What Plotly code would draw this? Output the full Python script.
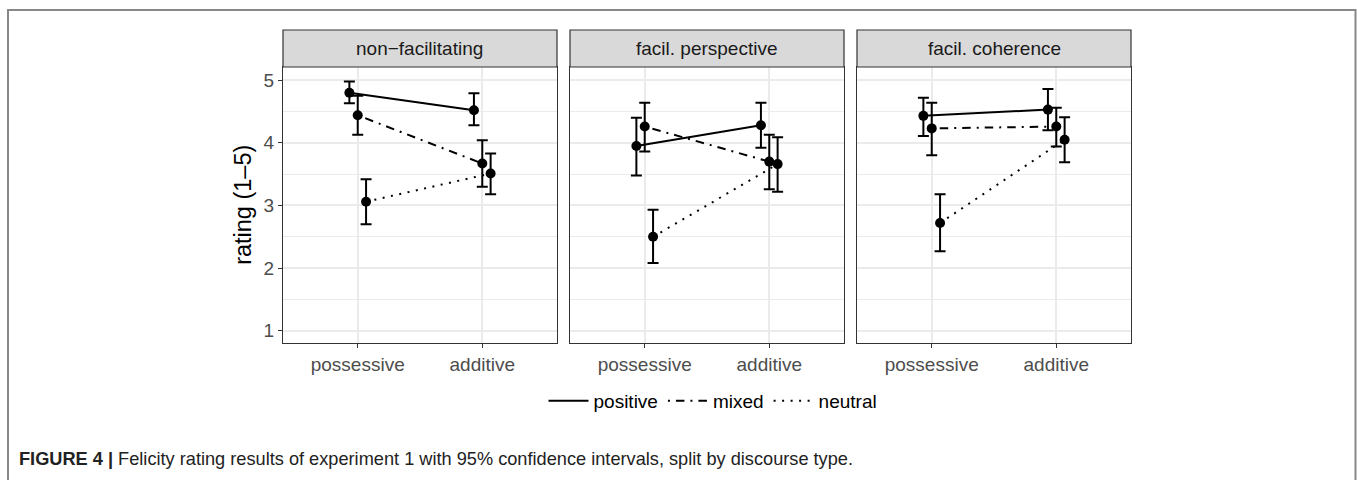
import plotly.graph_objects as go

# ---- data ----
panels = ["non\u2212facilitating", "facil. perspective", "facil. coherence"]
conditions = ["possessive", "additive"]
series = ["positive", "mixed", "neutral"]

positive_mean = [[4.80, 4.52], [3.95, 4.28], [4.43, 4.53]]
positive_low = [[4.63, 4.28], [3.48, 3.92], [4.11, 4.20]]
positive_high = [[4.98, 4.79], [4.40, 4.64], [4.72, 4.86]]

mixed_mean = [[4.44, 3.67], [4.26, 3.70], [4.23, 4.26]]
mixed_low = [[4.13, 3.30], [3.86, 3.26], [3.80, 3.94]]
mixed_high = [[4.75, 4.04], [4.64, 4.13], [4.64, 4.56]]

neutral_mean = [[3.06, 3.51], [2.50, 3.66], [2.72, 4.05]]
neutral_low = [[2.70, 3.18], [2.08, 3.22], [2.27, 3.69]]
neutral_high = [[3.42, 3.83], [2.93, 4.09], [3.18, 4.41]]

y_ticks = [1, 2, 3, 4, 5]

# ---- styling ----
W, H = 1357, 480
FONT = "Liberation Sans, Arial, sans-serif"
dodge = {"positive": -0.067, "mixed": 0.0, "neutral": 0.067}
dash = {"positive": "solid", "mixed": "2px,6px,8.5px,6px", "neutral": "2px,6.5px"}
panel_px = [(283, 557), (570, 844), (857, 1131)]
plot_top, plot_bot = 67, 342.7
strip_top = 30

means = {"positive": positive_mean, "mixed": mixed_mean, "neutral": neutral_mean}
lows = {"positive": positive_low, "mixed": mixed_low, "neutral": neutral_low}
highs = {"positive": positive_high, "mixed": mixed_high, "neutral": neutral_high}

fig = go.Figure()
ydom = [(H - plot_bot) / H, (H - plot_top) / H]

for i, pname in enumerate(panels):
    xa = "x" if i == 0 else f"x{i+1}"
    ya = "y" if i == 0 else f"y{i+1}"
    for s in series:
        m = means[s][i]
        lo = lows[s][i]
        hi = highs[s][i]
        xs = [k + 1 + dodge[s] for k in range(len(conditions))]
        fig.add_trace(go.Scatter(
            x=xs, y=m, xaxis=xa, yaxis=ya,
            mode="lines+markers",
            name=s, legendgroup=s, showlegend=False,
            line=dict(color="black", width=2, dash=dash[s]),
            marker=dict(color="black", size=10),
            error_y=dict(type="data", symmetric=False,
                         array=[h - v for h, v in zip(hi, m)],
                         arrayminus=[v - l for v, l in zip(m, lo)],
                         color="black", thickness=2, width=5.5),
        ))
    x0, x1 = panel_px[i]
    dom = [x0 / W, x1 / W]
    axname = "xaxis" if i == 0 else f"xaxis{i+1}"
    yaxname = "yaxis" if i == 0 else f"yaxis{i+1}"
    fig.layout[axname] = dict(
        domain=dom, anchor=ya, range=[0.4, 2.6],
        tickvals=[1, 2], ticktext=conditions,
        showgrid=True, gridcolor="#EBEBEB", gridwidth=1.6,
        zeroline=False, showline=True, mirror=True,
        linecolor="#333333", linewidth=1.2,
        ticks="outside", ticklen=4, tickcolor="#333333", tickwidth=1.2,
        tickfont=dict(family=FONT, size=19, color="#4D4D4D"),
        fixedrange=True,
    )
    fig.layout[yaxname] = dict(
        domain=ydom, anchor=xa, range=[0.81, 5.21],
        tickvals=y_ticks,
        showgrid=True, gridcolor="#EBEBEB", gridwidth=1.6,
        minor=dict(dtick=0.5, tick0=0.5, showgrid=True, gridcolor="#EBEBEB", gridwidth=0.8),
        zeroline=False, showline=True, mirror=True,
        linecolor="#333333", linewidth=1.2,
        ticks="outside" if i == 0 else "", ticklen=4, tickcolor="#333333", tickwidth=1.2,
        showticklabels=(i == 0),
        tickfont=dict(family=FONT, size=19, color="#4D4D4D"),
        fixedrange=True,
    )
    # strip
    fig.add_shape(type="rect", xref="paper", yref="paper",
                  x0=dom[0], x1=dom[1], y0=ydom[1], y1=(H - strip_top) / H,
                  fillcolor="#D9D9D9", line=dict(color="#333333", width=1.2))
    fig.add_annotation(xref="paper", yref="paper",
                       x=(dom[0] + dom[1]) / 2, y=(ydom[1] + (H - strip_top) / H) / 2,
                       xanchor="center", yanchor="middle",
                       text=pname, showarrow=False,
                       font=dict(family=FONT, size=19, color="#1A1A1A"))

# legend-only entries (line keys, no markers)
for s in series:
    fig.add_trace(go.Scatter(
        x=[None], y=[None], mode="lines", name=s, legendgroup=s, showlegend=True,
        line=dict(color="black", width=2, dash=dash[s]),
    ))

# y axis title
fig.add_annotation(xref="paper", yref="paper", x=243 / W, y=(ydom[0] + ydom[1]) / 2,
                   xanchor="center", yanchor="middle", textangle=-90,
                   text="rating (1\u20135)", showarrow=False,
                   font=dict(family=FONT, size=23.5, color="black"))

# outer frame
fig.add_shape(type="rect", xref="paper", yref="paper",
              x0=8 / W, x1=1355.5 / W, y0=-0.05, y1=(H - 10) / H,
              line=dict(color="#888888", width=2), fillcolor="rgba(0,0,0,0)")

# caption
fig.add_annotation(xref="paper", yref="paper", x=17 / W, y=(H - 459) / H,
                   xanchor="left", yanchor="middle", showarrow=False,
                   text="<b>FIGURE 4 |</b> Felicity rating results of experiment 1 with 95% confidence intervals, split by discourse type.",
                   font=dict(family=FONT, size=18.2, color="#222222"))

fig.update_layout(
    width=W, height=H,
    margin=dict(l=0, r=0, t=0, b=0),
    paper_bgcolor="white", plot_bgcolor="white",
    legend=dict(orientation="h", x=713 / W, xanchor="center", y=(H - 401) / H, yanchor="middle",
                font=dict(family=FONT, size=19, color="black"),
                itemwidth=40, tracegroupgap=0, bgcolor="rgba(0,0,0,0)"),
    showlegend=True,
)

fig.write_html("out.html", config={"displayModeBar": False},
               post_script="document.body.style.margin='0';document.body.style.overflow='hidden';")
